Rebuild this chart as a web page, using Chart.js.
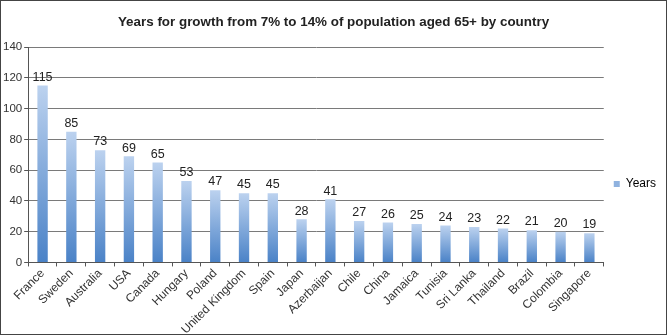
<!DOCTYPE html>
<html lang="en">
<head>
  <meta charset="UTF-8">
  <title>Years for growth from 7% to 14% of population aged 65+ by country</title>
  <style>
    body {
      margin: 0;
      background: #fff;
      font-family: "Liberation Sans", Arial, sans-serif;
    }
    .frame {
      width: 667px;
      height: 335px;
      box-sizing: border-box;
      border: 1px solid #444;
      position: relative;
    }
    .frame canvas {
      display: block;
    }
  </style>
</head>
<body>
  <div class="frame">
    <canvas id="chart" width="665" height="333"></canvas>
  </div>

  <script src="https://cdn.jsdelivr.net/npm/chart.js"></script>
  <script>
    // Chart data
    const countries = ['France', 'Sweden', 'Australia', 'USA', 'Canada', 'Hungary', 'Poland',
      'United Kingdom', 'Spain', 'Japan', 'Azerbaijan', 'Chile', 'China', 'Jamaica', 'Tunisia',
      'Sri Lanka', 'Thailand', 'Brazil', 'Colombia', 'Singapore'];
    const years = [115, 85, 73, 69, 65, 53, 47, 45, 45, 28, 41, 27, 26, 25, 24, 23, 22, 21, 20, 19];
    const yTicks = [0, 20, 40, 60, 80, 100, 120, 140];

    const FONT = '"Liberation Sans", Arial, sans-serif';

    // Light-to-dark blue gradient for each bar, top to bottom
    function barGradient(context) {
      const chart = context.chart;
      const area = chart.chartArea;
      if (!area || context.type !== 'data') return '#7aa3d8';
      const yScale = chart.scales.y;
      const top = yScale.getPixelForValue(context.raw);
      const bottom = yScale.getPixelForValue(0);
      const g = chart.ctx.createLinearGradient(0, top, 0, bottom);
      g.addColorStop(0, '#bcd2ef');
      g.addColorStop(1, '#4a82c7');
      return g;
    }

    // Draw value labels above bars
    const valueLabels = {
      id: 'valueLabels',
      afterDatasetsDraw(chart) {
        const ctx = chart.ctx;
        const meta = chart.getDatasetMeta(0);
        ctx.save();
        ctx.font = '12.5px ' + FONT;
        ctx.fillStyle = '#222';
        ctx.textAlign = 'center';
        ctx.textBaseline = 'bottom';
        meta.data.forEach((bar, i) => {
          ctx.fillText(String(years[i]), bar.x, bar.y - 2);
        });
        ctx.restore();
      }
    };

    // Nudge the legend down a bit, like the original
    const legendShift = {
      id: 'legendShift',
      afterLayout(chart) {
        chart.legend.top += 15;
        chart.legend.bottom += 15;
      }
    };

    new Chart(document.getElementById('chart'), {
      type: 'bar',
      data: {
        labels: countries,
        datasets: [{
          label: 'Years',
          data: years,
          backgroundColor: barGradient,
          borderWidth: 0,
          barPercentage: 0.72,
          categoryPercentage: 0.5
        }]
      },
      options: {
        responsive: false,
        animation: false,
        layout: { padding: { left: 0, right: 0, top: 0, bottom: -3 } },
        plugins: {
          title: {
            display: true,
            text: 'Years for growth from 7% to 14% of population aged 65+ by country',
            color: '#222',
            font: { family: FONT, size: 13.4, weight: 'bold' },
            padding: { top: 13, bottom: 17 }
          },
          legend: {
            position: 'right',
            labels: {
              color: '#333',
              font: { family: FONT, size: 12 },
              boxWidth: 6,
              boxHeight: 6,
              padding: 10,
              generateLabels() {
                return [{ text: 'Years', fillStyle: '#8fb2df', strokeStyle: '#8fb2df', lineWidth: 0 }];
              }
            }
          },
          tooltip: { enabled: false }
        },
        scales: {
          y: {
            min: 0,
            max: 140,
            afterBuildTicks(axis) {
              axis.ticks = yTicks.map(v => ({ value: v }));
            },
            ticks: {
              color: '#333',
              font: { family: FONT, size: 11.5 },
              padding: 2
            },
            grid: {
              color: '#7a7a7a',
              tickColor: '#555',
              tickLength: 4,
              lineWidth: 1
            },
            border: { color: '#555', width: 1 }
          },
          x: {
            ticks: {
              color: '#333',
              font: { family: FONT, size: 12 },
              minRotation: 45,
              maxRotation: 45,
              padding: 0
            },
            grid: {
              drawOnChartArea: false,
              offset: true,
              tickColor: '#555',
              tickLength: 4
            },
            border: { color: '#555', width: 1 }
          }
        }
      },
      plugins: [valueLabels, legendShift]
    });
  </script>
</body>
</html>
